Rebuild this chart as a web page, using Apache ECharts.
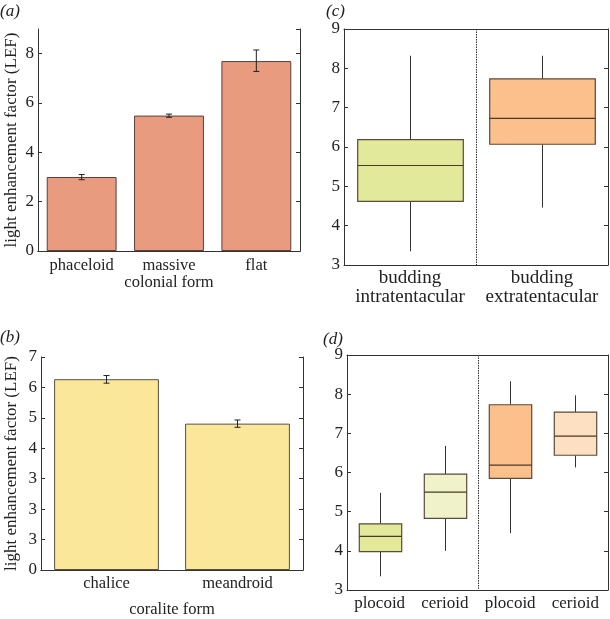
<!DOCTYPE html>
<html>
<head>
<meta charset="utf-8">
<script src="https://cdn.jsdelivr.net/npm/echarts@6/dist/echarts.min.js"></script>
<style>html,body{margin:0;padding:0;background:#fff;}#c{width:610px;height:619px;}</style>
</head>
<body>
<div id="c"></div>
<script>
// ---- data ----
const aCats = ['phaceloid', 'massive\ncolonial form', 'flat'];
const aVals = [3.0, 5.49, 7.70];
const aErrLo = [2.89, 5.42, 7.28];
const aErrHi = [3.10, 5.55, 8.15];

const bCats = ['chalice', 'meandroid'];
const bVals = [6.27, 4.81];
const bErrLo = [6.14, 4.69];
const bErrHi = [6.39, 4.93];
const bTickLabels = ['0', '3', '3', '3', '4', '5', '6', '7'];

const cCats = ['budding\nintratentacular', 'budding\nextratentacular'];
// [min, q1, median, q3, max]
const cBoxes = [
  [3.35, 4.62, 5.53, 6.19, 8.32],
  [4.46, 6.07, 6.73, 7.73, 8.32]
];

const dCats = ['plocoid', 'cerioid', 'plocoid', 'cerioid'];
const dBoxes = [
  [3.35, 3.98, 4.37, 4.69, 5.48],
  [4.00, 4.83, 5.50, 5.96, 6.68],
  [4.45, 5.85, 6.19, 7.73, 8.33],
  [6.13, 6.44, 6.93, 7.54, 7.97]
];

// ---- styles ----
const FONT = 'Liberation Serif';
const TXT = '#222';
const AX = '#333';
const cColors = ['#E3E99A', '#FBC08C'];
const dColors = ['#E3E99A', '#F0F3CA', '#FBC08C', '#FDDFC2'];

function catAxes(gi, cats, fontSize, margin, lineHeight) {
  return [
    {type: 'category', gridIndex: gi, data: cats, position: 'bottom',
     axisLine: {lineStyle: {color: AX}}, axisTick: {inside: true, length: 4, lineStyle: {color: AX}},
     axisLabel: {interval: 0, color: TXT, fontFamily: FONT, fontSize: fontSize, margin: margin, lineHeight: lineHeight}},
    {type: 'category', gridIndex: gi, data: cats, position: 'top',
     axisLine: {lineStyle: {color: AX}}, axisTick: {inside: true, length: 4, lineStyle: {color: AX}},
     axisLabel: {show: false}}
  ];
}
function valAxes(gi, min, max, interval, fmt, name, nameGap) {
  return [
    {type: 'value', gridIndex: gi, min: min, max: max, interval: interval, position: 'left',
     name: name, nameLocation: 'middle', nameGap: nameGap,
     nameTextStyle: {color: TXT, fontFamily: FONT, fontSize: 17},
     axisLine: {show: true, lineStyle: {color: AX}}, axisTick: {show: true, inside: true, length: 4, lineStyle: {color: AX}},
     splitLine: {show: false},
     axisLabel: {color: TXT, fontFamily: FONT, fontSize: 17, margin: 4, showMaxLabel: max % interval === 0, formatter: fmt}},
    {type: 'value', gridIndex: gi, min: min, max: max, interval: interval, position: 'right',
     axisLine: {show: true, lineStyle: {color: AX}}, axisTick: {show: true, inside: true, length: 4, lineStyle: {color: AX}},
     splitLine: {show: false}, axisLabel: {show: false}}
  ];
}

function errSeries(xi, yi, lo, hi) {
  return {
    type: 'custom', xAxisIndex: xi, yAxisIndex: yi, z: 5,
    data: lo.map((v, i) => [i, v, hi[i]]),
    renderItem: function (params, api) {
      const p1 = api.coord([api.value(0), api.value(1)]);
      const p2 = api.coord([api.value(0), api.value(2)]);
      const w = 3;
      const st = {stroke: '#222', lineWidth: 1};
      return {type: 'group', children: [
        {type: 'line', shape: {x1: p1[0], y1: p1[1], x2: p2[0], y2: p2[1]}, style: st},
        {type: 'line', shape: {x1: p1[0] - w, y1: p1[1], x2: p1[0] + w, y2: p1[1]}, style: st},
        {type: 'line', shape: {x1: p2[0] - w, y1: p2[1], x2: p2[0] + w, y2: p2[1]}, style: st}
      ]};
    }
  };
}

function boxSeries(xi, yi, boxes, colors, frac) {
  return {
    type: 'custom', xAxisIndex: xi, yAxisIndex: yi, z: 3,
    data: boxes.map((b, i) => [i].concat(b)),
    renderItem: function (params, api) {
      const i = api.value(0);
      const pMin = api.coord([i, api.value(1)]);
      const pQ1 = api.coord([i, api.value(2)]);
      const pMed = api.coord([i, api.value(3)]);
      const pQ3 = api.coord([i, api.value(4)]);
      const pMax = api.coord([i, api.value(5)]);
      const bw = api.size([1, 0])[0] * frac;
      const x = Math.round(pMed[0]) + 0.5;
      const st = {stroke: '#333', lineWidth: 1};
      return {type: 'group', children: [
        {type: 'line', shape: {x1: x, y1: pMin[1], x2: x, y2: pQ1[1]}, style: st},
        {type: 'line', shape: {x1: x, y1: pQ3[1], x2: x, y2: pMax[1]}, style: st},
        {type: 'rect', shape: {x: x - bw / 2, y: pQ3[1], width: bw, height: pQ1[1] - pQ3[1]},
         style: {fill: colors[params.dataIndex], stroke: '#5a4a3a', lineWidth: 1.2}},
        {type: 'line', shape: {x1: x - bw / 2, y1: pMed[1], x2: x + bw / 2, y2: pMed[1]},
         style: {stroke: '#4a3a2a', lineWidth: 1.2}}
      ]};
    }
  };
}

function sepSeries(xi, yi, boundary) {
  return {
    type: 'custom', xAxisIndex: xi, yAxisIndex: yi, z: 2,
    data: [[boundary]],
    renderItem: function (params, api) {
      const b = api.value(0);
      const c0 = api.coord([b - 1, 0])[0];
      const c1 = api.coord([b, 0])[0];
      const x = Math.round((c0 + c1) / 2) + 0.5;
      const cs = params.coordSys;
      return {type: 'line', shape: {x1: x, y1: cs.y, x2: x, y2: cs.y + cs.height},
        style: {stroke: '#333', lineWidth: 1, lineDash: [1.5, 1]}};
    }
  };
}

const chart = echarts.init(document.getElementById('c'), null, {renderer: 'canvas'});
const titleStyle = {color: TXT, fontFamily: FONT, fontSize: 17, fontStyle: 'italic', fontWeight: 'normal'};

const xA = catAxes(0, aCats, 16.5, 6, 17);
const xC = catAxes(1, cCats, 19, 4, 19);
const xB = catAxes(2, bCats, 16.5, 5, 17);
xB[0].name = 'coralite form'; xB[0].nameLocation = 'middle'; xB[0].nameGap = 31;
xB[0].nameTextStyle = {color: TXT, fontFamily: FONT, fontSize: 16.5};
const xD = catAxes(3, dCats, 17, 5, 17);

const yA = valAxes(0, 0, 9, 2, null, 'light enhancement factor (LEF)', 18);
const yC = valAxes(1, 3, 9, 1, null, '', 0);
const yB = valAxes(2, 0, 7, 1, function (v) { return bTickLabels[Math.round(v)]; }, 'light enhancement factor (LEF)', 21);
const yD = valAxes(3, 3, 9, 1, null, '', 0);

chart.setOption({
  animation: false,
  backgroundColor: '#fff',
  title: [
    {text: '(a)', left: 0, top: 3, padding: 0, textStyle: titleStyle},
    {text: '(c)', left: 326, top: 3, padding: 0, textStyle: titleStyle},
    {text: '(b)', left: 0, top: 329, padding: 0, textStyle: titleStyle},
    {text: '(d)', left: 323, top: 331, padding: 0, textStyle: titleStyle}
  ],
  grid: [
    {left: 38, top: 29, width: 262, height: 222},
    {left: 344, top: 29, width: 264, height: 236},
    {left: 41, top: 357, width: 262, height: 221},
    {left: 347, top: 355, width: 261, height: 235}
  ],
  xAxis: xA.concat(xC, xB, xD),
  yAxis: yA.concat(yC, yB, yD),
  series: [
    {type: 'bar', xAxisIndex: 0, yAxisIndex: 0, data: aVals, barWidth: '80%',
     itemStyle: {color: '#E89B7E', borderColor: '#5a4038', borderWidth: 1}},
    errSeries(0, 0, aErrLo, aErrHi),
    sepSeries(2, 2, 1),
    boxSeries(2, 2, cBoxes, cColors, 0.8),
    {type: 'bar', xAxisIndex: 4, yAxisIndex: 4, data: bVals, barWidth: '80%',
     itemStyle: {color: '#FBE79A', borderColor: '#5a5040', borderWidth: 1}},
    errSeries(4, 4, bErrLo, bErrHi),
    sepSeries(6, 6, 2),
    boxSeries(6, 6, dBoxes, dColors, 0.65)
  ]
});
</script>
</body>
</html>
